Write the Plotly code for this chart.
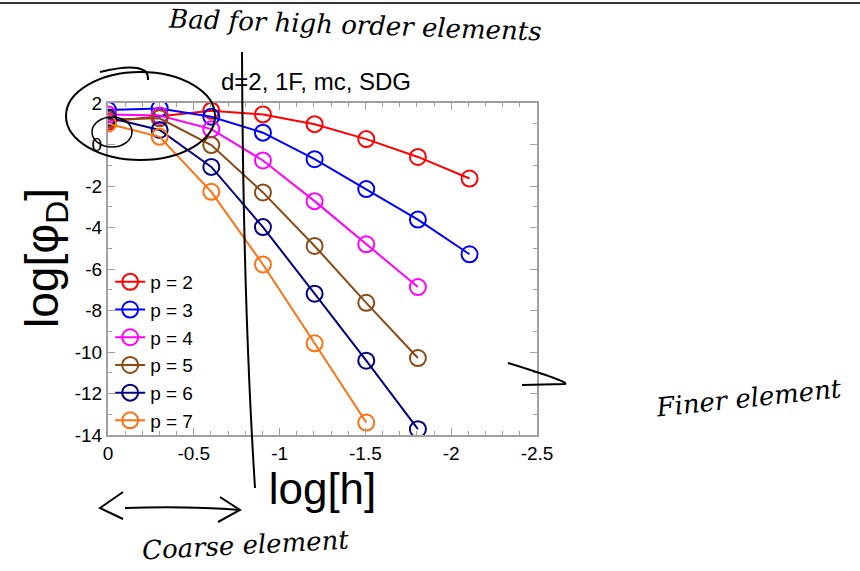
import plotly.graph_objects as go

log_h = [0, -0.301, -0.602, -0.903, -1.204, -1.505, -1.806, -2.107]

p2 = [1.10, 1.38, 1.63, 1.45, 0.98, 0.26, -0.60, -1.64]
p3 = [1.66, 1.74, 1.34, 0.57, -0.71, -2.15, -3.62, -5.29]
p4 = [1.45, 1.40, 0.74, -0.77, -2.73, -4.81, -6.87]
p5 = [1.20, 1.26, -0.03, -2.31, -4.89, -7.63, -10.29]
p6 = [1.30, 0.70, -1.08, -3.98, -7.19, -10.42, -13.72]
p7 = [1.00, 0.37, -2.28, -5.78, -9.58, -13.40]

series = [("p = 2", p2, "#FF0000"), ("p = 3", p3, "#0000FF"), ("p = 4", p4, "#FF00FF"),
          ("p = 5", p5, "#8B4A14"), ("p = 6", p6, "#000080"), ("p = 7", p7, "#FF7010")]

x_ticks = [0, -0.5, -1, -1.5, -2, -2.5]
x_ticklabels = ["0", "-0.5", "-1", "-1.5", "-2", "-2.5"]
y_ticks = [2, 0, -2, -4, -6, -8, -10, -12, -14]
y_ticklabels = ["2", "0", "-2", "-4", "-6", "-8", "-10", "-12", "-14"]

fig = go.Figure()
for name, vals, col in series:
    fig.add_trace(go.Scatter(x=log_h[:len(vals)], y=vals, name=name, mode="lines+markers",
                             line=dict(color=col, width=2),
                             marker=dict(symbol="circle-open", size=16, color=col, line=dict(width=2, color=col))))

L, R, T, B = 108, 537, 103, 435
W, H = 860, 571

def px(X):
    return (X - L) / (R - L)

def py(Y):
    return (B - Y) / (B - T)

font = "Liberation Sans, Arial, sans-serif"
axcol = "#a0a0a0"
fig.update_layout(
    width=W, height=H, margin=dict(l=L, r=W - R, t=T, b=H - B),
    paper_bgcolor="white", plot_bgcolor="white",
    font=dict(family=font, color="black"),
    showlegend=True,
    legend=dict(x=0.005, y=py(263), xanchor="left", yanchor="top", bgcolor="rgba(0,0,0,0)",
                font=dict(size=19, family=font), tracegroupgap=0, itemwidth=30),
    title=dict(text="d=2, 1F, mc, SDG", xref="container", x=316 / W, xanchor="center",
               yref="container", y=1 - 82 / H, yanchor="middle",
               font=dict(size=24, family=font)),
    xaxis=dict(range=[0, -2.5], tickvals=x_ticks, ticktext=x_ticklabels, ticks="inside", ticklen=7,
               tickcolor=axcol, showline=True, linecolor=axcol, linewidth=2, mirror="ticks",
               showgrid=False, zeroline=False, tickfont=dict(size=19, family=font),
               minor=dict(dtick=0.1, ticks="inside", ticklen=4, tickcolor=axcol),
               title=dict(text="log[h]", font=dict(size=44, family=font), standoff=0)),
    yaxis=dict(range=[-14, 2], tickvals=y_ticks, ticktext=y_ticklabels, ticks="inside", ticklen=7,
               tickcolor=axcol, showline=True, linecolor=axcol, linewidth=2, mirror="ticks",
               showgrid=False, zeroline=False, tickfont=dict(size=19, family=font),
               minor=dict(dtick=1, ticks="inside", ticklen=4, tickcolor=axcol)),
)

fig.add_annotation(text="log[φ<sub>D</sub>]", xref="paper", yref="paper", x=px(45), y=py(258),
                   xanchor="center", yanchor="middle", showarrow=False, textangle=-90,
                   font=dict(size=46, family=font))

ink = dict(color="black", width=2)
shapes = [
    dict(type="line", xref="paper", yref="paper", x0=px(0), x1=px(W), y0=py(3), y1=py(3),
         line=dict(color="#333333", width=2)),
    dict(type="circle", xref="paper", yref="paper", x0=px(66), x1=px(215), y0=py(160), y1=py(72),
         line=ink),
    dict(type="circle", xref="paper", yref="paper", x0=px(92), x1=px(132), y0=py(147), y1=py(117),
         line=dict(color="black", width=1.5)),
    dict(type="path", xref="paper", yref="paper",
         path=f"M {px(100)} {py(72)} Q {px(150)} {py(60)} {px(148)} {py(80)}", line=ink),
    dict(type="path", xref="paper", yref="paper",
         path=f"M {px(242)} {py(52)} Q {px(243)} {py(300)} {px(255)} {py(488)}", line=ink),
    dict(type="path", xref="paper", yref="paper",
         path=f"M {px(123)} {py(492)} L {px(100)} {py(508)} L {px(123)} {py(519)}", line=ink),
    dict(type="path", xref="paper", yref="paper",
         path=f"M {px(125)} {py(508)} Q {px(190)} {py(506)} {px(240)} {py(510)}", line=ink),
    dict(type="path", xref="paper", yref="paper",
         path=f"M {px(220)} {py(497)} L {px(240)} {py(510)} L {px(218)} {py(522)}", line=ink),
    dict(type="path", xref="paper", yref="paper",
         path=f"M {px(508)} {py(363)} Q {px(570)} {py(382)} {px(565)} {py(384)} L {px(522)} {py(385)}",
         line=ink),
]
fig.update_layout(shapes=shapes)

hand = "DejaVu Serif, serif"
fig.add_annotation(text="<i>Bad for high order elements</i>", xref="paper", yref="paper",
                   x=px(355), y=py(25), xanchor="center", yanchor="middle", showarrow=False,
                   font=dict(size=26, family=hand), textangle=2)
fig.add_annotation(text="<i>Finer element</i>", xref="paper", yref="paper",
                   x=px(748), y=py(398), xanchor="center", yanchor="middle", showarrow=False,
                   font=dict(size=26, family=hand), textangle=-6)
fig.add_annotation(text="<i>Coarse element</i>", xref="paper", yref="paper",
                   x=px(245), y=py(545), xanchor="center", yanchor="middle", showarrow=False,
                   font=dict(size=26, family=hand), textangle=-3)

fig.write_html("out.html")
